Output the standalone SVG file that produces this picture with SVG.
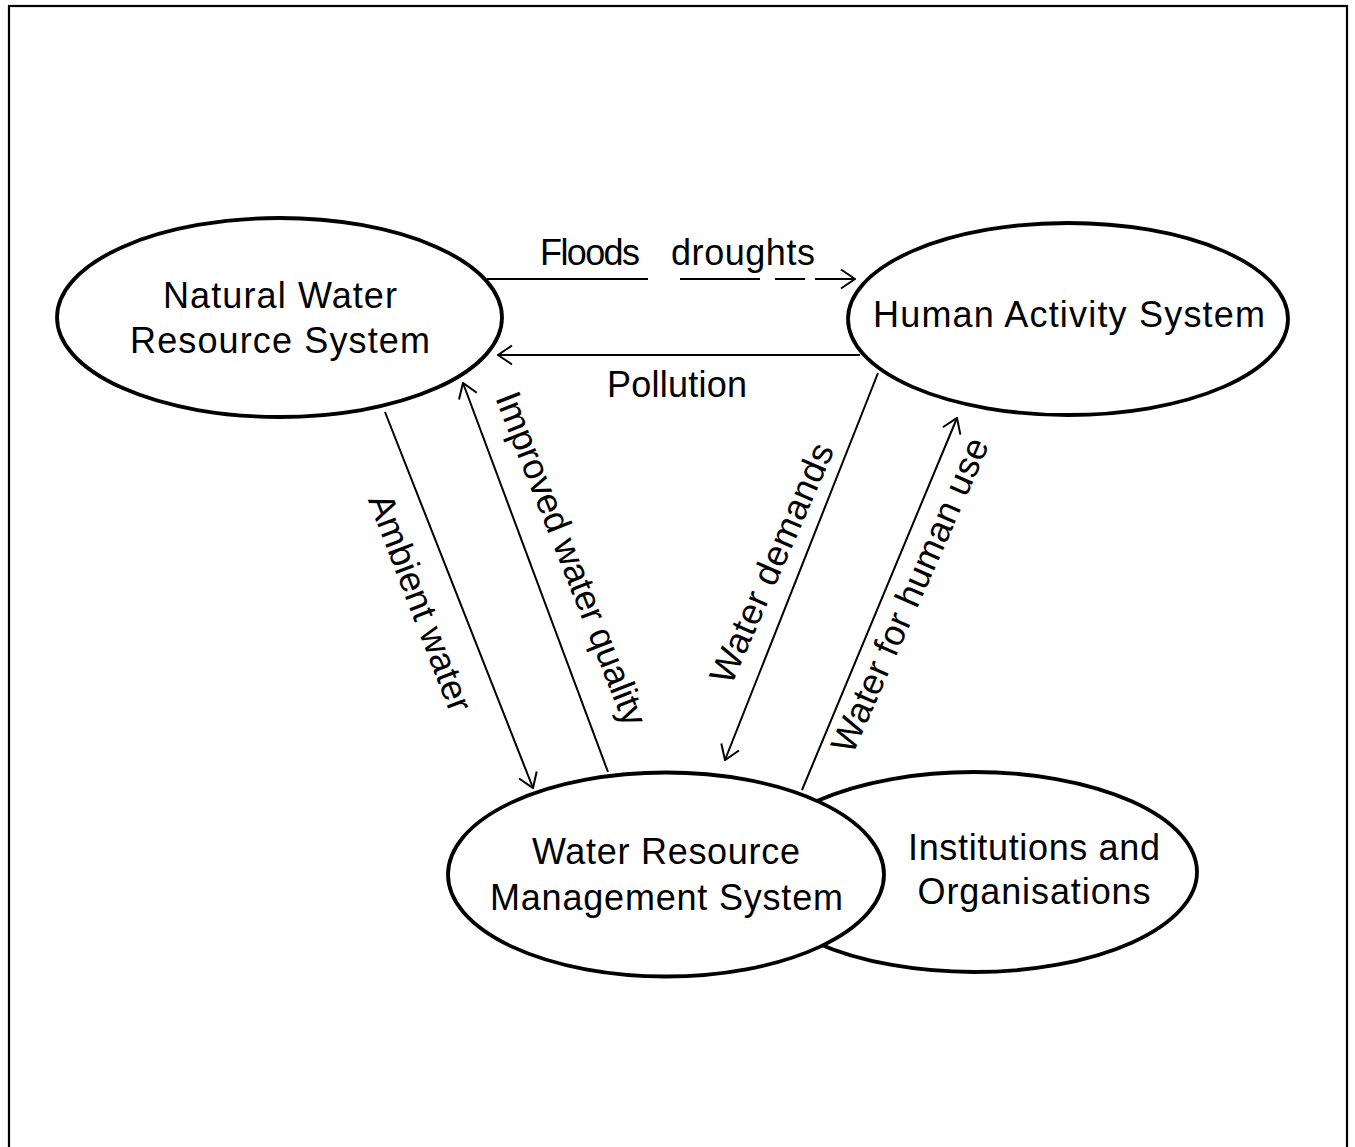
<svg xmlns="http://www.w3.org/2000/svg" width="1355" height="1147" viewBox="0 0 1355 1147">
  <style>
    .node { fill: #ffffff; stroke: #000000; stroke-width: 3.8; }
    .lbl { font-family: "Liberation Sans", Arial, Helvetica, sans-serif; font-size: 36px; fill: #000000; text-anchor: middle; }
    .conn { fill: none; stroke: #000000; stroke-width: 2; }
    .frame { fill: none; stroke: #000000; stroke-width: 2.2; }
  </style>
  <defs>
    <marker id="arr" viewBox="0 0 16 22" refX="15" refY="11" markerWidth="16" markerHeight="22" markerUnits="userSpaceOnUse" orient="auto">
      <path d="M1,1.5 L15,11 L1,20.5" fill="none" stroke="#000000" stroke-width="2"/>
    </marker>
  </defs>
  <rect x="0" y="0" width="1355" height="1147" fill="#ffffff"/>
  <rect class="frame" x="9" y="6" width="1338" height="1160"/>

  <g id="connectors">
    <path id="c-floods" class="conn" d="M487,279 L648,279 M680,279 L760,279 M775,279 L805,279 M815,279 L855,279" marker-end="url(#arr)"/>
    <path id="c-pollution" class="conn" d="M860,355 L498,355" marker-end="url(#arr)"/>
    <path id="c-ambient" class="conn" d="M385,412 L533,788" marker-end="url(#arr)"/>
    <path id="c-improved" class="conn" d="M608,772 L463,383" marker-end="url(#arr)"/>
    <path id="c-demands" class="conn" d="M878,373 L725,760" marker-end="url(#arr)"/>
    <path id="c-human-use" class="conn" d="M802,790 L957,418" marker-end="url(#arr)"/>
    <text class="lbl"><tspan x="540" y="265" text-anchor="start" textLength="100">Floods</tspan><tspan x="671" y="265" text-anchor="start" textLength="144">droughts</tspan></text>
    <text class="lbl" x="677" y="397" textLength="140">Pollution</text>
    <text class="lbl" transform="translate(409,607) rotate(69)" textLength="230">Ambient water</text>
    <text class="lbl" transform="translate(560,563) rotate(68.5)" textLength="355">Improved water quality</text>
    <text class="lbl" transform="translate(783,568) rotate(-66.4)" textLength="258">Water demands</text>
    <text class="lbl" transform="translate(921,600) rotate(-66.2)" textLength="340">Water for human use</text>
  </g>

  <g id="node-natural">
    <ellipse class="node" cx="279.5" cy="317.5" rx="222.5" ry="99.5"/>
    <text class="lbl" x="280" y="308" textLength="234">Natural Water</text>
    <text class="lbl" x="280" y="353" textLength="300">Resource System</text>
  </g>

  <g id="node-human">
    <ellipse class="node" cx="1068" cy="319" rx="220" ry="96"/>
    <text class="lbl" x="1069" y="327" textLength="392">Human Activity System</text>
  </g>

  <g id="node-institutions">
    <ellipse class="node" cx="974" cy="872" rx="223" ry="100"/>
    <text class="lbl" x="1034" y="860" textLength="252">Institutions and</text>
    <text class="lbl" x="1034" y="904" textLength="233">Organisations</text>
  </g>

  <g id="node-wrm">
    <ellipse class="node" cx="666" cy="874.5" rx="218" ry="102"/>
    <text class="lbl" x="666" y="864" textLength="268">Water Resource</text>
    <text class="lbl" x="666.5" y="910" textLength="353">Management System</text>
  </g>
</svg>
